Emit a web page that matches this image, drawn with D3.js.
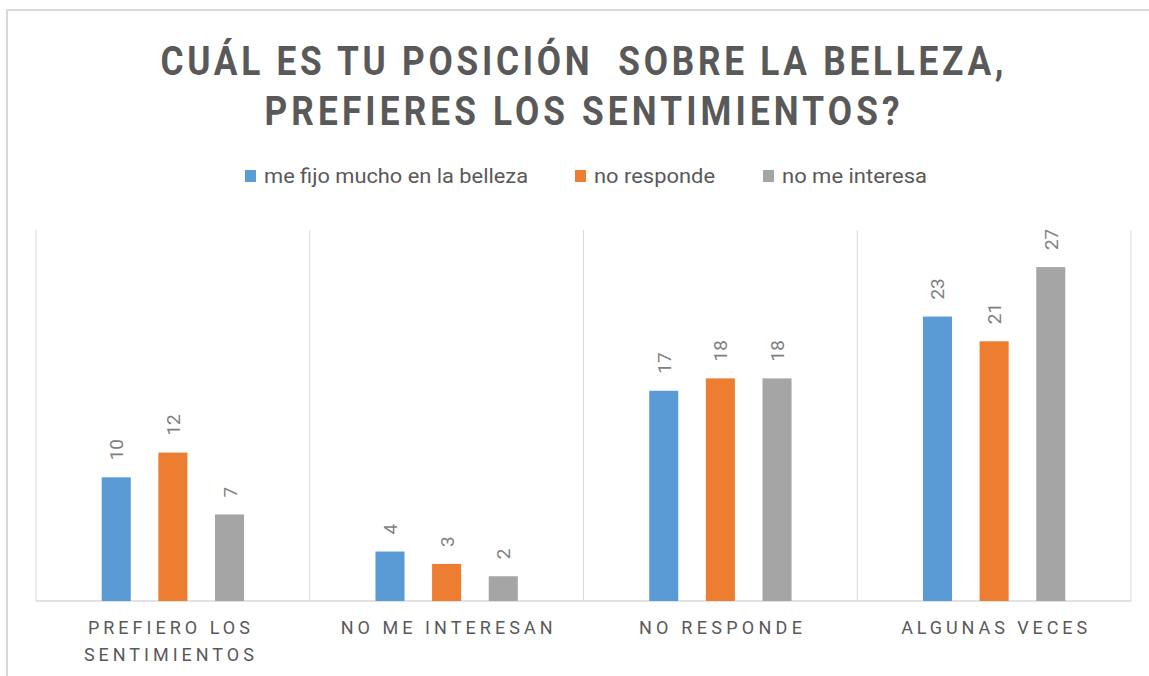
<!DOCTYPE html>
<html><head><meta charset="utf-8">
<script src="https://cdn.jsdelivr.net/npm/d3@7"></script>
<style>body{margin:0;background:#fff}svg{display:block}</style>
</head><body><svg id="c" width="1149" height="676"></svg>
<script>
const categories = [["PREFIERO LOS","SENTIMIENTOS"],["NO ME INTERESAN"],["NO RESPONDE"],["ALGUNAS VECES"]];
const seriesNames = ["me fijo mucho en la belleza","no responde","no me interesa"];
const seriesColors = ["#5b9bd5","#ed7d31","#a5a5a5"];
const meFijo = [10,4,17,23];
const noResponde = [12,3,18,21];
const noMeInteresa = [7,2,18,27];
const titleLines = ["CUÁL ES TU POSICIÓN  SOBRE LA BELLEZA,","PREFIERES LOS SENTIMIENTOS?"];

(function(){
const series = [meFijo, noResponde, noMeInteresa];
const svg = d3.select("#c");
const W = 1149, H = 676;
const pLeft = 36, pRight = 1131, pTop = 230, pBottom = 601;

// frame
svg.append("line").attr("x1",6).attr("x2",W).attr("y1",10).attr("y2",10).attr("stroke","#d9d9d9").attr("stroke-width",2);
svg.append("line").attr("x1",7).attr("x2",7).attr("y1",10).attr("y2",H).attr("stroke","#d9d9d9").attr("stroke-width",2);

// title (condensed look)
const tw = [843, 635];
const sx = 0.86;
titleLines.forEach((t,i)=>{
  svg.append("text").attr("transform",`translate(582,${75+i*50}) scale(${sx},1)`).attr("text-anchor","middle")
    .attr("font-family","Roboto, sans-serif").attr("font-weight","bold")
    .attr("font-size",41).attr("fill","#595959").attr("xml:space","preserve")
    .attr("textLength",tw[i]/sx).attr("lengthAdjust","spacing").text(t);
});

// legend
const legX = [245,575,763];
const legW = [264,121,145];
seriesNames.forEach((n,i)=>{
  svg.append("rect").attr("x",legX[i]).attr("y",170).attr("width",11).attr("height",12).attr("fill",seriesColors[i]);
  svg.append("text").attr("x",legX[i]+19).attr("y",183).attr("font-family","Roboto, sans-serif")
    .attr("font-size",20).attr("fill","#595959").attr("textLength",legW[i]).attr("lengthAdjust","spacingAndGlyphs").text(n);
});

const x0 = d3.scaleBand().domain(d3.range(categories.length)).range([pLeft,pRight]).padding(0);
const x1 = d3.scaleBand().domain(d3.range(series.length)).range([0,x0.bandwidth()]).paddingInner(0.487).paddingOuter(1.16);
const y = d3.scaleLinear().domain([0,30]).range([pBottom,pTop]);

// gridlines
const g = svg.append("g");
d3.range(categories.length+1).forEach(i=>{
  const xx = pLeft + i*x0.bandwidth();
  g.append("line").attr("x1",xx).attr("x2",xx).attr("y1",pTop).attr("y2",pBottom).attr("stroke","#d9d9d9").attr("stroke-width",1);
});
g.append("line").attr("x1",pLeft).attr("x2",pRight).attr("y1",pBottom).attr("y2",pBottom).attr("stroke","#d9d9d9").attr("stroke-width",1.5);

// bars
series.forEach((s,si)=>{
  s.forEach((v,ci)=>{
    const bx = x0(ci)+x1(si);
    svg.append("rect").attr("x",bx).attr("y",y(v)).attr("width",x1.bandwidth()).attr("height",pBottom-y(v)).attr("fill",seriesColors[si]);
    const cx = bx + x1.bandwidth()/2, ty = y(v)-17;
    svg.append("text").attr("transform",`translate(${cx+7},${ty}) rotate(-90)`)
      .attr("font-family","Roboto, sans-serif").attr("font-size",19).attr("fill","#7f7f7f").text(v);
  });
});

// category labels
const catW = [[162,170],[212],[163],[186]];
categories.forEach((lines,ci)=>{
  lines.forEach((l,li)=>{
    svg.append("text").attr("x",x0(ci)+x0.bandwidth()/2 - (ci===0?4:0)).attr("y",634+li*27).attr("text-anchor","middle")
      .attr("font-family","Roboto, sans-serif").attr("font-size",18).attr("fill","#595959")
      .attr("textLength",catW[ci][li]).attr("lengthAdjust","spacing").text(l);
  });
});
})();
</script></body></html>
